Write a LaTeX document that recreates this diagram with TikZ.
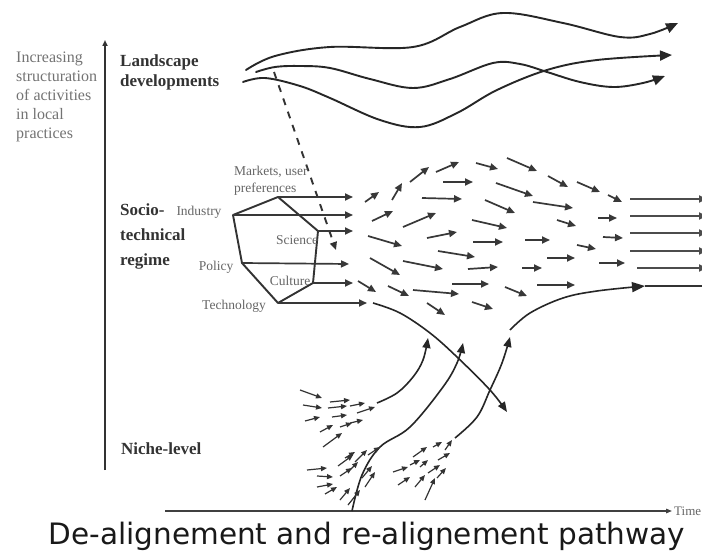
\documentclass[tikz,border=0pt]{standalone}
\usepackage{fontspec}
\setmainfont{Liberation Serif}
\newfontfamily\capfont{DejaVu Sans}
\usetikzlibrary{arrows.meta}
\tikzset{
  thickln/.style={line width=1.9pt, draw=black!85, line cap=round},
  bigarr/.style={thickln, -{Triangle[length=12pt,width=10pt]}},
  curvearr/.style={line width=1.6pt, draw=black!85, -{Triangle[length=10pt,width=8pt]}},
  fieldarr/.style={line width=1.7pt, draw=black!78, -{Triangle[length=8pt,width=7pt]}},
  niarr/.style={line width=1.2pt, draw=black!80, -{Triangle[length=6pt,width=5pt]}},
  hexln/.style={line width=1.9pt, draw=black!80, line join=round},
  axisln/.style={line width=1.5pt, draw=black!80, -{Triangle[length=6pt,width=5pt]}},
  smalllbl/.style={font=\fontsize{13.5}{15}\selectfont, text=black!60, inner sep=0pt},
  sidelbl/.style={font=\fontsize{16}{18.8}\selectfont, text=black!55, inner sep=0pt, align=left},
  boldlbl/.style={font=\fontsize{17}{20}\selectfont\bfseries, text=black!80, inner sep=0pt, align=left},
}
\begin{document}
\begin{tikzpicture}[x=1pt,y=-1pt]
\useasboundingbox (0,0) rectangle (702,551);
\fill[white] (0,0) rectangle (702,551);

% axes
\coordinate (vbot) at (105,470);
\coordinate (vtop) at (105,40);
\draw[axisln] (vbot) -- (vtop);
\coordinate (tleft) at (165,511);
\coordinate (tright) at (672,511);
\draw[line width=1.3pt, draw=black!75, -{Triangle[length=6pt,width=4.5pt]}] (tleft) -- (tright);
\node[smalllbl, anchor=west, font=\fontsize{13}{15}\selectfont] (time) at (674,511) {Time};

% side text
\node[sidelbl, anchor=west] (incr) at (16,97) {Increasing\\structuration\\of activities\\in local\\practices};

% level labels
\node[boldlbl, anchor=west] (land) at (120,72) {Landscape\\developments};
\node[boldlbl, anchor=west, font=\fontsize{17}{25}\selectfont\bfseries] (regime) at (120,236) {Socio-\\technical\\regime};
\node[boldlbl, anchor=west] (niche) at (121,449) {Niche-level};

% landscape curves
\draw[bigarr] plot[smooth, tension=0.6] coordinates {(246,70) (275,56) (330,47) (413,47) (460,27) (503,13) (563,23) (620,37) (650,34) (678,23)};
\draw[bigarr] plot[smooth, tension=0.6] coordinates {(256,72) (275,67) (300,66) (330,68) (370,79) (413,88) (450,79) (493,63) (520,64) (547,72) (580,82) (613,87) (643,83) (665,76)};
\draw[bigarr] plot[smooth, tension=0.6] coordinates {(243,82) (265,78) (300,86) (330,98) (380,120) (420,127) (457,113) (497,90) (547,70) (597,60) (672,55)};

% dashed influence
\coordinate (dsh1) at (274,72);
\coordinate (dsh2) at (336,250);
\draw[line width=1.9pt, draw=black!80, dash pattern=on 7pt off 7pt, -{Triangle[length=8pt,width=7pt]}] (dsh1) -- (dsh2);

% hexagon
\coordinate (h1) at (233,215);
\coordinate (h2) at (278,197);
\coordinate (h3) at (318,231);
\coordinate (h4) at (313,283);
\coordinate (h5) at (278,303);
\coordinate (h6) at (242,263);
\draw[hexln] (h1) -- (h2) -- (h3) -- (h4) -- (h5) -- (h6) -- cycle;

\coordinate (e2) at (353,197);
\coordinate (e1) at (353,215);
\coordinate (e3) at (353,231);
\coordinate (e6) at (349,264);
\coordinate (e4) at (353,283);
\coordinate (e5) at (367,303);
\draw[fieldarr] (h2) -- (e2);
\draw[fieldarr] (h1) -- (e1);
\draw[fieldarr] (h3) -- (e3);
\draw[fieldarr] (h6) -- (e6);
\draw[fieldarr] (h4) -- (e4);
\draw[fieldarr] (h5) -- (e5);

% regime labels
\node[smalllbl, anchor=west, align=left, font=\fontsize{13.5}{16.5}\selectfont] (markets) at (234,181) {Markets, user\\preferences};
\node[smalllbl] (industry) at (199,212) {Industry};
\node[smalllbl] (science) at (297,240) {Science};
\node[smalllbl] (policy) at (216,267) {Policy};
\node[smalllbl] (culture) at (290,281) {Culture};
\node[smalllbl] (technology) at (234,306) {Technology};

% field of arrows
\foreach \xa/\ya/\xb/\yb in {
365/202/379/192, 392/200/402/183, 410/182/429/167, 436/172/459/162,
476/163/498/169, 507/158/537/171, 548/176/568/187, 577/182/600/192, 608/195/622/202,
372/221/393/211, 443/182/473/182, 496/183/533/196, 422/198/462/199,
403/227/436/213, 485/200/515/213, 533/202/573/208, 598/218/617/218,
557/220/576/226, 472/220/507/228, 427/238/457/232, 368/236/402/246,
473/242/503/242, 525/240/550/240, 603/237/623/238, 577/245/596/249,
438/251/475/257, 370/258/400/275, 403/261/443/269, 468/269/498/267,
547/258/575/258, 522/268/542/268, 599/263/625/263,
358/281/376/292, 388/286/409/296, 413/290/459/294, 452/284/489/284,
505/287/527/296, 537/285/575/285, 427/303/445/315, 472/302/493/309}
  \draw[fieldarr] (\xa,\ya) -- (\xb,\yb);

% realigned regime (right)
\foreach \yy/\xs in {199/630, 216/630, 233/630, 251/630, 268/637}
  \draw[fieldarr, line width=2pt, draw=black!70] (\xs,\yy) -- (707,\yy);

% de-alignment curve
\draw[curvearr] plot[smooth, tension=0.6] coordinates {(373,303) (400,313) (430,333) (457,357) (490,390) (507,412)};

% niche curves
\draw[curvearr] plot[smooth, tension=0.6] coordinates {(377,403) (397,393) (413,377) (423,360) (428,338)};
\draw[curvearr] plot[smooth, tension=0.6] coordinates {(352,511) (362,475) (380,447) (410,427) (443,387) (457,363) (463,343)};
\draw[curvearr] plot[smooth, tension=0.6] coordinates {(455,438) (477,417) (490,390) (502,363) (510,337)};

% re-alignment curve
\draw[curvearr, -{Triangle[length=13pt,width=10pt]}] plot[smooth, tension=0.6] coordinates {(510,330) (530,313) (563,298) (597,291) (645,286)};
\coordinate (ra1) at (645,286);
\coordinate (ra2) at (706,286);
\draw[line width=1.6pt, draw=black!80] (ra1) -- (ra2);

% niche clusters
\foreach \xa/\ya/\xb/\yb in {
300/390/322/398, 303/405/322/408, 305/421/320/417, 330/402/350/400,
328/408/347/406, 332/417/347/415, 350/406/365/403, 357/413/375/407,
320/432/333/425, 340/427/352/423, 350/423/363/420, 323/447/342/433,
307/470/327/468, 317/476/333/477, 317/487/333/484, 325/494/337/487,
340/500/350/488, 348/505/360/490, 338/466/353/455, 340/476/352/468,
350/470/358/462, 355/462/367/450, 362/478/372/466, 365/487/375/472,
368/455/380/447, 345/458/355/452,
393/472/408/467, 398/485/410/477, 413/457/427/447, 410/465/420/460,
420/467/428/460, 415/487/425/475, 425/500/435/478, 428/473/440/465,
433/447/442/442, 438/460/450/453, 445/450/452/440, 437/478/446/468}
  \draw[niarr] (\xa,\ya) -- (\xb,\yb);

% caption
\node[font=\capfont\fontsize{29.5}{32}\selectfont, text=black!90, inner sep=0pt] (caption) at (367,536) {De-alignement and re-alignement pathway};
\end{tikzpicture}
\end{document}
